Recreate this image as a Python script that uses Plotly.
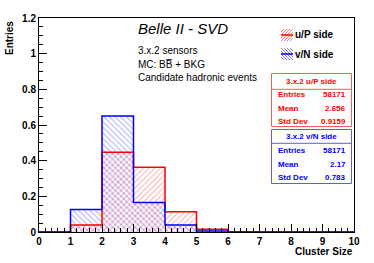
import plotly.graph_objects as go

# Data
bin_edges = [0, 1, 2, 3, 4, 5, 6, 7, 8, 9, 10]
u_side = [0.0, 0.039, 0.447, 0.363, 0.113, 0.016, 0.001, 0.0, 0.0, 0.0]
v_side = [0.0, 0.126, 0.651, 0.165, 0.039, 0.006, 0.0, 0.0, 0.0, 0.0]
y_ticks = [0, 0.2, 0.4, 0.6, 0.8, 1.0, 1.2]
y_tick_labels = ["0", "0.2", "0.4", "0.6", "0.8", "1", "1.2"]
x_ticks = list(range(0, 11))
u_stats = [("Entries", "58171"), ("Mean", "2.656"), ("Std Dev", "0.9159")]
v_stats = [("Entries", "58171"), ("Mean", "2.17"), ("Std Dev", "0.783")]

W, H = 374, 263
PL, PR, PT, PB = 39, 354, 18, 232   # plot area in window pixels
L, T, R, B = PL, PT, W - PR, H - PB
PW, PH = PR - PL, PB - PT

def px(x):
    return (x - PL) / PW

def py(y):
    return (PB - y) / PH

centers = [(bin_edges[i] + bin_edges[i + 1]) / 2 for i in range(len(u_side))]
FONT = "Liberation Sans, Arial, sans-serif"

fig = go.Figure()
fig.add_trace(go.Bar(
    x=centers, y=u_side, width=1,
    marker=dict(color="rgba(0,0,0,0)", line=dict(width=0),
                pattern=dict(shape="/", fgcolor="rgba(255,0,0,0.65)", bgcolor="rgba(0,0,0,0)",
                             size=4, solidity=0.25)),
    showlegend=False, hoverinfo="skip"))
fig.add_trace(go.Bar(
    x=centers, y=v_side, width=1,
    marker=dict(color="rgba(0,0,0,0)", line=dict(width=0),
                pattern=dict(shape="\\", fgcolor="rgba(0,0,255,0.65)", bgcolor="rgba(0,0,0,0)",
                             size=4, solidity=0.25)),
    showlegend=False, hoverinfo="skip"))
fig.add_trace(go.Scatter(
    x=bin_edges, y=u_side + [u_side[-1]], mode="lines", line_shape="hv",
    line=dict(color="red", width=1.5), showlegend=False, hoverinfo="skip"))
fig.add_trace(go.Scatter(
    x=bin_edges, y=v_side + [v_side[-1]], mode="lines", line_shape="hv",
    line=dict(color="blue", width=1.5), showlegend=False, hoverinfo="skip"))

fig.update_layout(
    width=W, height=H, margin=dict(l=L, r=R, t=T, b=B, autoexpand=False),
    paper_bgcolor="white", plot_bgcolor="white", barmode="overlay", bargap=0,
    font=dict(family=FONT, color="black"),
    xaxis=dict(range=[0, 10], tickvals=x_ticks, ticktext=[str(v) for v in x_ticks],
               ticks="inside", ticklen=8, tickcolor="black", showgrid=False, zeroline=False,
               showline=True, linecolor="black", linewidth=1, mirror=True, automargin=False,
               tickfont=dict(size=10, weight="bold", family=FONT),
               minor=dict(dtick=0.2, ticks="inside", ticklen=4, tickcolor="black", showgrid=False)),
    yaxis=dict(range=[0, 1.2], tickvals=y_ticks, ticktext=y_tick_labels,
               ticks="inside", ticklen=8, tickcolor="black", showgrid=False, zeroline=False,
               showline=True, linecolor="black", linewidth=1, mirror=True, automargin=False,
               tickfont=dict(size=10, weight="bold", family=FONT),
               minor=dict(dtick=0.05, ticks="inside", ticklen=4, tickcolor="black", showgrid=False)),
)

ann = []
shapes = []
# Axis titles
ann.append(dict(x=px(9), y=py(38), xref="paper", yref="paper", text="<b>Entries</b>", textangle=-90,
                showarrow=False, font=dict(size=10, family=FONT), xanchor="center", yanchor="middle"))
ann.append(dict(x=px(355), y=py(251), xref="paper", yref="paper", text="<b>Cluster Size</b>",
                showarrow=False, font=dict(size=10, family=FONT), xanchor="right", yanchor="middle"))
# Title and info text
ann.append(dict(x=px(136), y=py(28), xref="paper", yref="paper", text="<i>Belle II - SVD</i>",
                showarrow=False, font=dict(size=15, family=FONT), xanchor="left", yanchor="middle"))
for txt, yy in [("3.x.2 sensors", 50), ("MC: BB\u0305 + BKG", 64), ("Candidate hadronic events", 77)]:
    ann.append(dict(x=px(136), y=py(yy), xref="paper", yref="paper", text=txt,
                    showarrow=False, font=dict(size=10, family=FONT), xanchor="left", yanchor="middle"))

def clip(xa, ya, xb, yb, x0, x1, y0, y1):
    t0, t1 = 0.0, 1.0
    dx, dy = xb - xa, yb - ya
    for p, q in [(-dx, xa - x0), (dx, x1 - xa), (-dy, ya - y0), (dy, y1 - ya)]:
        if p == 0:
            if q < 0:
                return None
            continue
        r = q / p
        if p < 0:
            t0 = max(t0, r)
        else:
            t1 = min(t1, r)
    if t0 >= t1:
        return None
    return xa + t0 * dx, ya + t0 * dy, xa + t1 * dx, ya + t1 * dy

# Legend
for label, col, shp, yy in [("u/P side", "red", "/", 35), ("v/N side", "blue", "\\", 54)]:
    x0, x1 = 281, 293
    hcol = "rgba(255,0,0,0.5)" if col == "red" else "rgba(0,0,255,0.5)"
    for k in range(-12, 13, 3):
        if shp == "/":
            xa, ya, xb, yb = x0 + k, yy + 6, x0 + k + 12, yy - 6
        else:
            xa, ya, xb, yb = x0 + k, yy - 6, x0 + k + 12, yy + 6
        c = clip(xa, ya, xb, yb, x0, x1, yy - 6, yy + 6)
        if c:
            shapes.append(dict(type="line", xref="paper", yref="paper", x0=px(c[0]), y0=py(c[1]),
                               x1=px(c[2]), y1=py(c[3]), line=dict(color=hcol, width=1)))
    shapes.append(dict(type="line", xref="paper", yref="paper", x0=px(x0), x1=px(x1),
                       y0=py(yy), y1=py(yy), line=dict(color=col, width=1.5)))
    ann.append(dict(x=px(293), y=py(yy), xref="paper", yref="paper", text="<b>" + label + "</b>",
                    showarrow=False, font=dict(size=10, family=FONT), xanchor="left", yanchor="middle"))

# Stat boxes
for title, stats, col, top, bot, sep, rows, border in [
    ("3.x.2 u/P side", u_stats, "red", 73.5, 126.5, 89.3, [94.5, 108, 121.5], "rgb(255,90,90)"),
    ("3.x.2 v/N side", v_stats, "blue", 129.5, 183.5, 143.3, [150.5, 164, 177.5], "rgb(90,90,255)"),
]:
    shapes.append(dict(type="rect", xref="paper", yref="paper", x0=px(271.5), x1=px(351.5),
                       y0=py(bot), y1=py(top), line=dict(color=border, width=1), fillcolor="white",
                       layer="above"))
    shapes.append(dict(type="line", xref="paper", yref="paper", x0=px(271.5), x1=px(351.5),
                       y0=py(sep), y1=py(sep), line=dict(color=border, width=1)))
    ann.append(dict(x=px(311.5), y=py((top + sep) / 2), xref="paper", yref="paper",
                    text="<b>" + title + "</b>", showarrow=False,
                    font=dict(size=8, color=col, family=FONT), xanchor="center", yanchor="middle"))
    for (lab, val), yy in zip(stats, rows):
        ann.append(dict(x=px(275.5), y=py(yy), xref="paper", yref="paper", text="<b>" + lab + "</b>",
                        showarrow=False, font=dict(size=8, color=col, family=FONT),
                        xanchor="left", yanchor="middle"))
        ann.append(dict(x=px(348), y=py(yy), xref="paper", yref="paper", text="<b>" + val + "</b>",
                        showarrow=False, font=dict(size=8, color=col, family=FONT),
                        xanchor="right", yanchor="middle"))

fig.update_layout(annotations=ann, shapes=shapes)
fig.write_html("out.html", config={"displayModeBar": False},
               post_script="document.body.style.margin='0';document.body.style.padding='0';")
